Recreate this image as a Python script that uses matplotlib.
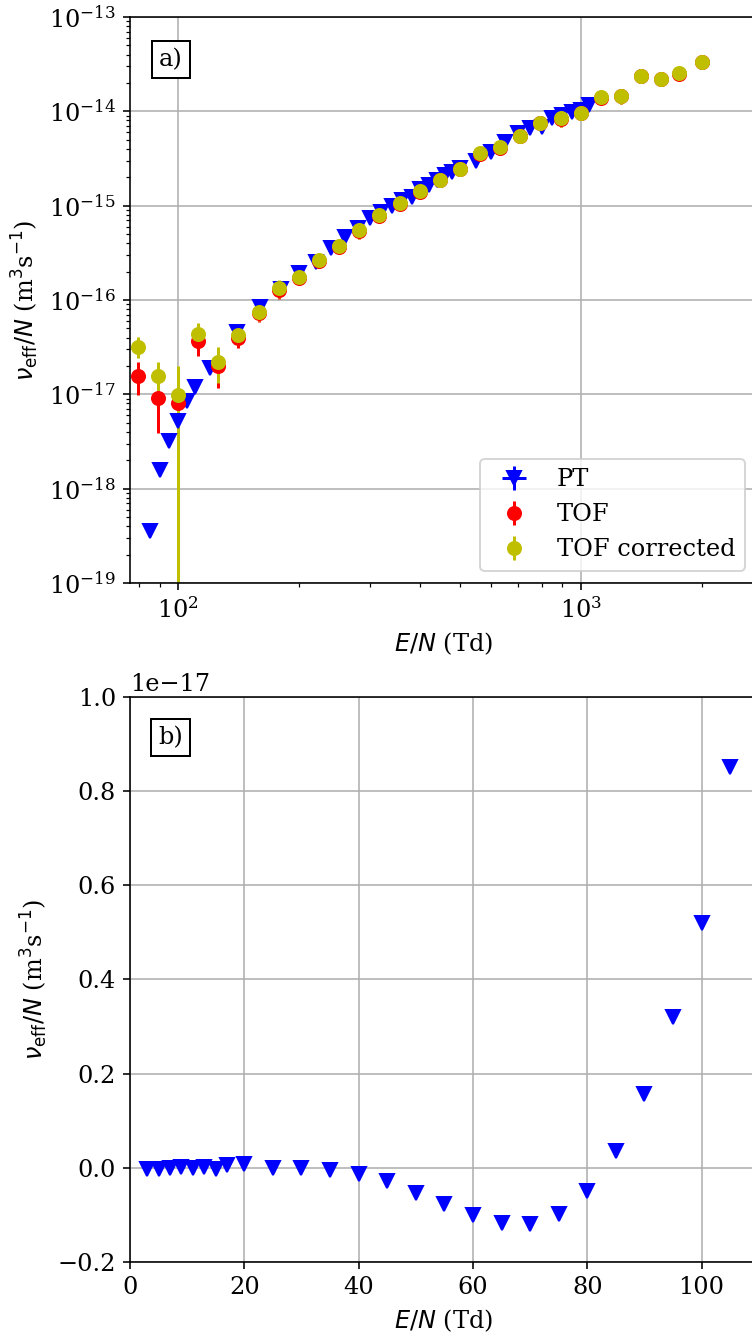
import matplotlib
matplotlib.use("Agg")
import matplotlib.pyplot as plt

plt.rcParams['font.family'] = 'serif'
plt.rcParams['font.size'] = 12

# PT data (E/N in Td, nu_eff/N in m^3 s^-1)
pt_en = [3, 5, 7, 9, 11, 13, 15, 17, 20, 25, 30, 35, 40, 45, 50, 55, 60, 65, 70, 75,
         80, 85, 90, 95, 100, 105, 110, 120, 140, 160, 180, 200, 220, 240, 260, 280,
         300, 320, 340, 360, 380, 400, 420, 440, 460, 480, 500, 550, 600, 650, 700,
         750, 800, 850, 900, 950, 1000, 1050]
pt_nu = [-3e-20, -1.5e-20, 0.0, 1e-20, 0.0, 1e-20, -1.5e-20, 5.7e-20, 9e-20, 6e-21,
         0.0, -5e-20, -1.3e-19, -2.85e-19, -5.3e-19, -7.7e-19, -1.01e-18, -1.17e-18,
         -1.19e-18, -9.75e-19, -4.9e-19, 3.55e-19, 1.56e-18, 3.2e-18, 5.21e-18, 8.51e-18,
         1.19e-17, 1.89e-17, 4.6e-17, 8.5e-17, 1.3e-16, 1.92e-16, 2.55e-16, 3.53e-16,
         4.69e-16, 5.75e-16, 7.35e-16, 8.6e-16, 1.0e-15, 1.15e-15, 1.25e-15, 1.5e-15,
         1.65e-15, 1.87e-15, 2.1e-15, 2.3e-15, 2.5e-15, 2.95e-15, 3.73e-15, 4.76e-15,
         5.85e-15, 6.6e-15, 6.87e-15, 8.43e-15, 9.14e-15, 9.9e-15, 1.03e-14, 1.17e-14]
pt_rel_err = 0.08

# TOF data
tof_en = [79.4, 89.1, 100, 112.2, 125.9, 141.3, 158.5, 177.8, 199.5, 223.9, 251.2,
          281.8, 316.2, 354.8, 398.1, 446.7, 501.2, 562.3, 631.0, 707.9, 794.3, 891.3,
          1000, 1122, 1259, 1413, 1585, 1750, 1995]
tof_nu = [1.58e-17, 9.1e-18, 8.0e-18, 3.7e-17, 2.0e-17, 4.0e-17, 7.2e-17, 1.29e-16,
          1.72e-16, 2.58e-16, 3.65e-16, 5.4e-16, 7.8e-16, 1.04e-15, 1.41e-15, 1.85e-15,
          2.42e-15, 3.55e-15, 4.1e-15, 5.42e-15, 7.5e-15, 8.35e-15, 9.6e-15, 1.4e-14,
          1.45e-14, 2.37e-14, 2.18e-14, 2.51e-14, 3.33e-14]
tof_err = [0.6e-17, 5.2e-18, 3e-18, 1.15e-17, 0.83e-17, 0.9e-17, 1.4e-17, 2.6e-17,
           2.8e-17, 4.2e-17, 5.6e-17, 1.0e-16, 1.3e-16, 1.5e-16, 1.9e-16, 2.4e-16,
           3.0e-16, 4.2e-16, 5.2e-16, 7.0e-16, 9.5e-16, 1.5e-15, 1.1e-15, 1.8e-15,
           2.4e-15, 3.0e-15, 2.6e-15, 2.8e-15, 3.6e-15]

tofc_nu = [3.2e-17, 1.56e-17, 9.8e-18, 4.36e-17, 2.2e-17, 4.25e-17, 7.5e-17, 1.33e-16,
           1.77e-16, 2.65e-16, 3.73e-16, 5.5e-16, 7.96e-16, 1.06e-15, 1.43e-15, 1.87e-15,
           2.45e-15, 3.59e-15, 4.15e-15, 5.47e-15, 7.58e-15, 8.43e-15, 9.7e-15, 1.41e-14,
           1.46e-14, 2.39e-14, 2.2e-14, 2.53e-14, 3.36e-14]
tofc_lo = [0.78e-17, 0.50e-17, 1.2e-17, 1.16e-17, 0.88e-17, 0.95e-17, 1.5e-17, 2.8e-17,
           3.0e-17, 4.5e-17, 6.0e-17, 1.1e-16, 1.4e-16, 1.6e-16, 2.0e-16, 2.6e-16,
           3.2e-16, 4.5e-16, 5.5e-16, 7.5e-16, 1.0e-15, 1.6e-15, 1.2e-15, 1.9e-15,
           2.6e-15, 3.2e-15, 2.8e-15, 3.0e-15, 3.8e-15]
tofc_hi = [0.85e-17, 0.64e-17, 1.0e-17, 1.34e-17, 1.0e-17, 0.95e-17, 1.5e-17, 2.8e-17,
           3.0e-17, 4.5e-17, 6.0e-17, 1.1e-16, 1.4e-16, 1.6e-16, 2.0e-16, 2.6e-16,
           3.2e-16, 4.5e-16, 5.5e-16, 7.5e-16, 1.0e-15, 1.6e-15, 1.2e-15, 1.9e-15,
           2.6e-15, 3.2e-15, 2.8e-15, 3.0e-15, 3.8e-15]

ylab = r'$\nu_\mathrm{eff}/N$ (m$^3$s$^{-1}$)'
xlab = r'$E/N$ (Td)'

fig = plt.figure(figsize=(752 / 144, 1336 / 144), dpi=144)
ax1 = fig.add_axes([0.1729, 0.5636, 0.8338, 0.4237])
ax2 = fig.add_axes([0.1729, 0.0554, 0.8338, 0.4229])

# a) log-log
pt_yerr = [abs(v) * pt_rel_err for v in pt_nu]
pt_xerr = [e * 0.01 for e in pt_en]
ax1.errorbar(pt_en, pt_nu, xerr=pt_xerr, yerr=pt_yerr, fmt='bv', ms=7, label='PT')
ax1.errorbar(tof_en, tof_nu, yerr=tof_err, fmt='ro', ms=6.5, label='TOF')
ax1.errorbar(tof_en, tofc_nu, yerr=[tofc_lo, tofc_hi], fmt='yo', ms=6.5,
             label='TOF corrected')
ax1.set_xscale('log')
ax1.set_yscale('log')
ax1.set_xlim(76, 2740)
ax1.set_ylim(1e-19, 1e-13)
ax1.grid(True)
ax1.set_xlabel(xlab)
ax1.set_ylabel(ylab)
ax1.legend(loc='lower right')
ax1.text(0.065, 0.925, 'a)', transform=ax1.transAxes, ha='center', va='center',
         bbox=dict(boxstyle='square', facecolor='white', edgecolor='black'))

# b) linear, low field
ax2.plot(pt_en, pt_nu, 'bv', ls='none', ms=7)
ax2.set_xlim(0, 109.7)
ax2.set_ylim(-0.2e-17, 1.0e-17)
ax2.grid(True)
ax2.set_xlabel(xlab)
ax2.set_ylabel(ylab)
ax2.text(0.065, 0.928, 'b)', transform=ax2.transAxes, ha='center', va='center',
         bbox=dict(boxstyle='square', facecolor='white', edgecolor='black'))

fig.savefig('out.png', dpi=144)
